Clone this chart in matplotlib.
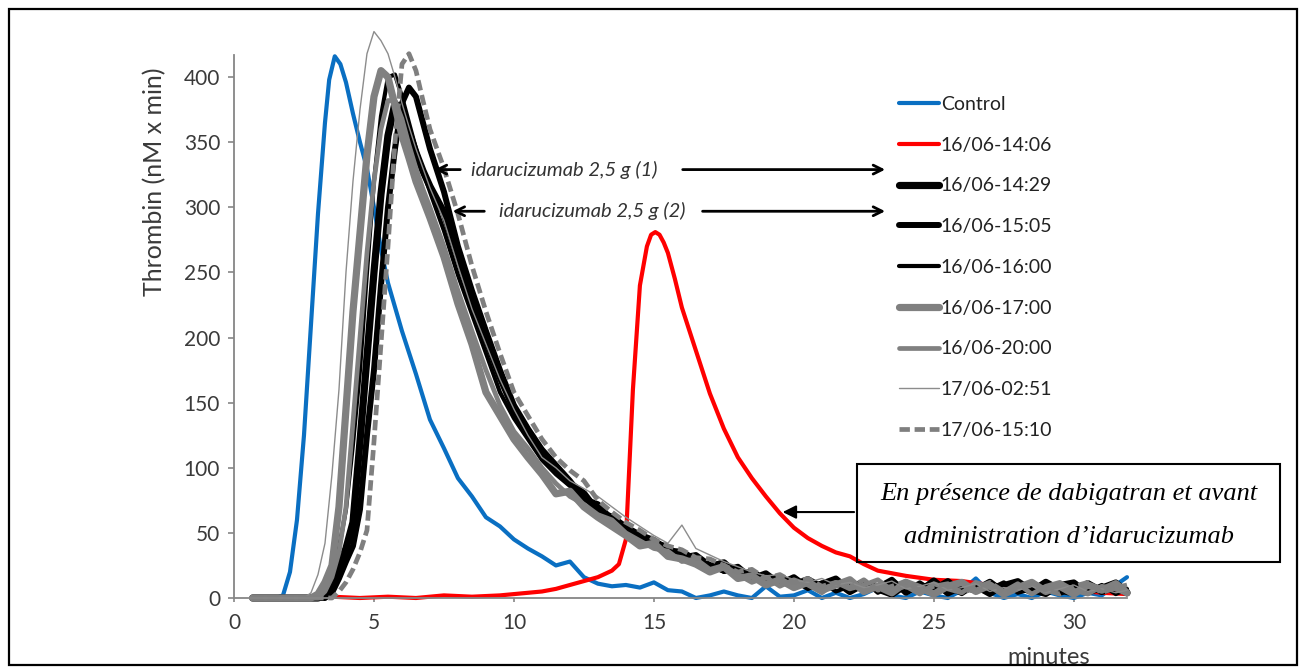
import matplotlib.pyplot as plt
from matplotlib.patches import Rectangle

plt.rcParams['font.family'] = ['Lato', 'DejaVu Sans']

# ---- data ----
t_ctrl = [0.67, 1.0, 1.5, 1.75, 2.0, 2.25, 2.5, 2.75, 3.0, 3.25, 3.4, 3.6, 3.8, 4.0, 4.25, 4.5,
          4.75, 5.0, 5.25, 5.5, 6.0, 6.5, 7.0, 7.5, 8.0, 8.5, 9.0, 9.5, 10.0, 10.5, 11.0, 11.5,
          12.0, 12.5, 13.0, 13.5, 14.0, 14.5, 15.0, 15.5, 16.0, 16.5, 17.0, 17.5, 18.0, 18.5,
          19.0, 19.5, 20.0, 20.5, 21.0, 21.5, 22.0, 22.5, 23.0, 23.5, 24.0, 24.5, 25.0, 25.5,
          26.0, 26.5, 27.0, 27.5, 28.0, 28.5, 29.0, 29.5, 30.0, 30.5, 31.0, 31.5, 31.9]
control = [0, 0, 0, 2, 20, 60, 125, 210, 295, 365, 398, 416, 410, 396, 372, 350,
           330, 300, 268, 242, 205, 172, 137, 115, 92, 78, 62, 55, 45, 38, 32, 25,
           28, 16, 11, 9, 10, 8, 12, 6, 5, 0, 2, 5, 2, 0,
           9, 1, 2, 6, 0, 4, 0, 3, 8, 2, 0, 5, 2, 0,
           6, 15, 4, 0, 3, 0, 5, 2, 0, 4, 2, 10, 16]

t_red = [0.67, 1.5, 2.5, 3.5, 4.5, 5.5, 6.5, 7.5, 8.5, 9.5, 10.0, 10.5, 11.0, 11.5, 12.0, 12.5,
         13.0, 13.5, 13.75, 14.0, 14.25, 14.5, 14.75, 14.9, 15.05, 15.2, 15.35, 15.5, 15.75,
         16.0, 16.5, 17.0, 17.5, 18.0, 18.5, 19.0, 19.5, 20.0, 20.5, 21.0, 21.5, 22.0, 22.5,
         23.0, 24.0, 25.0, 26.0, 27.0, 28.0, 29.0, 30.0, 31.0, 31.9]
s1406 = [0, 0, 0, 1, 0, 1, 0, 2, 1, 2, 3, 4, 5, 7, 10, 13,
         16, 21, 26, 45, 160, 240, 270, 279, 281, 279, 273, 265, 245,
         223, 190, 157, 130, 108, 92, 78, 65, 54, 46, 40, 35, 32, 26,
         21, 17, 14, 13, 10, 9, 7, 6, 4, 3]

# common time grid for the post-idarucizumab samples
t_grid = [0.67, 1.0, 1.5, 2.0, 2.5, 2.75, 3.0, 3.25, 3.5, 3.75, 4.0, 4.25, 4.5, 4.75, 5.0, 5.25,
          5.5, 5.75, 6.0, 6.25, 6.5, 6.75, 7.0, 7.5, 8.0, 8.5, 9.0, 9.5, 10.0, 10.5, 11.0, 11.5,
          12.0, 12.5, 13.0, 13.5, 14.0, 14.5, 15.0, 15.5, 16.0, 16.5, 17.0, 17.5, 18.0, 18.5,
          19.0, 19.5, 20.0, 20.5, 21.0, 21.5, 22.0, 22.5, 23.0, 23.5, 24.0, 24.5, 25.0, 25.5,
          26.0, 26.5, 27.0, 27.5, 28.0, 28.5, 29.0, 29.5, 30.0, 30.5, 31.0, 31.5, 31.9]

s1429 = [0, 0, 0, 0, 0, 0, 0, 2, 10, 24, 38, 58, 120, 185, 250, 310,
         355, 380, 372, 358, 342, 328, 316, 296, 262, 229, 200, 170, 145, 128, 112, 98,
         88, 80, 66, 62, 54, 48, 44, 36, 35, 29, 24, 27, 17, 20,
         13, 16, 10, 14, 8, 13, 5, 11, 7, 3, 10, 5, 13, 4,
         9, 6, 12, 4, 9, 5, 12, 6, 4, 11, 5, 9, 4]
s1505 = [0, 0, 0, 0, 0, 0, 0, 0, 4, 15, 28, 40, 68, 125, 175, 240,
         300, 345, 380, 392, 385, 365, 345, 312, 270, 236, 205, 175, 148, 130, 114, 102,
         90, 76, 72, 60, 55, 47, 43, 39, 31, 33, 25, 21, 24, 15,
         19, 11, 16, 8, 11, 15, 6, 12, 8, 14, 4, 10, 7, 13,
         5, 9, 3, 10, 13, 6, 3, 10, 12, 4, 8, 12, 5]
s1600 = [0, 0, 0, 0, 0, 0, 0, 6, 18, 38, 68, 118, 175, 250, 320, 370,
         400, 402, 385, 365, 345, 328, 312, 282, 248, 218, 188, 158, 138, 122, 106, 95,
         86, 76, 68, 58, 52, 46, 40, 38, 32, 28, 26, 20, 22, 14,
         18, 10, 13, 7, 12, 5, 9, 13, 4, 10, 6, 12, 5, 8,
         3, 10, 7, 12, 4, 7, 10, 3, 8, 5, 10, 3, 7]
s1700 = [0, 0, 0, 0, 0, 0, 3, 12, 25, 70, 145, 220, 280, 340, 385, 405,
         400, 378, 355, 338, 320, 306, 292, 262, 226, 195, 158, 140, 122, 108, 95, 80,
         82, 70, 62, 55, 48, 40, 42, 32, 30, 26, 20, 24, 15, 17,
         10, 14, 8, 12, 6, 10, 14, 5, 9, 4, 12, 8, 3, 9,
         12, 5, 10, 3, 8, 12, 5, 9, 3, 10, 6, 11, 4]
s2000 = [0, 0, 0, 0, 0, 0, 0, 5, 16, 35, 70, 135, 200, 265, 320, 360,
         382, 382, 368, 348, 330, 314, 300, 270, 236, 205, 175, 148, 128, 115, 100, 88,
         78, 72, 64, 60, 50, 44, 38, 36, 28, 30, 22, 25, 18, 12,
         16, 9, 14, 10, 4, 12, 7, 10, 14, 6, 9, 3, 11, 7,
         4, 12, 8, 5, 11, 3, 9, 12, 6, 3, 9, 7, 3]
s0251 = [0, 0, 0, 0, 0, 4, 18, 42, 95, 160, 250, 320, 375, 418, 435, 428,
         418, 400, 380, 362, 345, 330, 315, 290, 255, 222, 195, 168, 145, 125, 108, 100,
         90, 84, 78, 70, 62, 55, 48, 42, 56, 38, 33, 28, 24, 20,
         17, 18, 14, 12, 15, 10, 12, 8, 10, 13, 7, 9, 12, 6,
         8, 11, 5, 8, 6, 9, 4, 7, 10, 5, 7, 4, 6]
s1510 = [0, 0, 0, 0, 0, 0, 0, 0, 0, 5, 12, 22, 35, 52, 120, 195,
         270, 350, 410, 418, 405, 382, 360, 330, 295, 255, 220, 188, 158, 140, 122, 108,
         98, 90, 75, 66, 58, 52, 45, 40, 37, 31, 30, 25, 20, 22,
         15, 18, 12, 15, 9, 12, 8, 14, 6, 9, 13, 5, 9, 11,
         4, 8, 12, 5, 7, 10, 6, 3, 9, 12, 4, 8, 10]

labels = ['Control', '16/06-14:06', '16/06-14:29', '16/06-15:05', '16/06-16:00',
          '16/06-17:00', '16/06-20:00', '17/06-02:51', '17/06-15:10']

fig = plt.figure(figsize=(13.01, 6.70), dpi=100)
ax = fig.add_axes([234 / 1301, 72 / 670, 893 / 1301, 543 / 670])

gray = '#868686'
style = dict(clip_on=False, solid_joinstyle='round', solid_capstyle='round')
ax.plot(t_ctrl, control, color='#0a6fc2', lw=3, label=labels[0], **style)
ax.plot(t_red, s1406, color='#ff0000', lw=3, label=labels[1], **style)
ax.plot(t_grid, s1429, color='black', lw=5.2, label=labels[2], **style)
ax.plot(t_grid, s1505, color='black', lw=4.3, label=labels[3], **style)
ax.plot(t_grid, s1600, color='black', lw=3, label=labels[4], **style)
ax.plot(t_grid, s1700, color='#808080', lw=5.2, label=labels[5], **style)
ax.plot(t_grid, s2000, color='#808080', lw=3.4, label=labels[6], **style)
ax.plot(t_grid, s0251, color='#8c8c8c', lw=1, label=labels[7], **style)
ax.plot(t_grid, s1510, color='#7f7f7f', lw=3.4, dashes=(2.2, 1), label=labels[8], clip_on=False)

ax.set_xlim(0, 31.9)
ax.set_ylim(0, 417)
ax.set_xticks([0, 5, 10, 15, 20, 25, 30])
ax.set_yticks(range(0, 401, 50))
for s in ['top', 'right']:
    ax.spines[s].set_visible(False)
for s in ['left', 'bottom']:
    ax.spines[s].set_color(gray)
    ax.spines[s].set_linewidth(1.3)
ax.tick_params(axis='both', colors=gray, labelcolor='#3a3a3a', labelsize=15, width=1.2)
ax.tick_params(axis='y', length=4, pad=6)
ax.tick_params(axis='x', length=3, pad=8)

fig.text(155 / 1301, 1 - 182 / 670, 'Thrombin (nM x min)', rotation=90, fontsize=18,
         color='#3a3a3a', ha='center', va='center')
# x label sits on the lower frame, as in the reference
fig.text(1049 / 1301, 1 - 668 / 670, 'minutes', fontsize=17, color='#3a3a3a',
         ha='center', va='bottom')

leg = ax.legend(loc='upper left', bbox_to_anchor=(899 / 1301, 1 - 96 / 670),
                bbox_transform=fig.transFigure, frameon=False, fontsize=14,
                handlelength=2.05, handletextpad=0.1, labelspacing=1.22,
                borderpad=0, borderaxespad=0)
for txt in leg.get_texts():
    txt.set_color('#222222')

# idarucizumab arrows
arrow_kw = dict(arrowstyle='->', color='black', lw=2, mutation_scale=16)
for ylev, xtip, xtail, xtext, xr0, tag in [(329, 7.07, 8.18, 11.8, 15.93, '(1)'),
                                           (297, 7.71, 9.04, 12.8, 16.64, '(2)')]:
    ax.annotate('', xy=(xtip, ylev), xytext=(xtail, ylev), arrowprops=arrow_kw)
    ax.annotate('', xy=(23.36, ylev), xytext=(xr0, ylev), arrowprops=arrow_kw)
    ax.text(xtext, ylev, 'idarucizumab 2,5 g ' + tag, style='italic', fontsize=14.5,
            color='#333333', ha='center', va='center')

# boxed note about dabigatran
fig.patches.append(Rectangle((857 / 1301, 1 - 562 / 670), 423 / 1301, 98 / 670,
                             transform=fig.transFigure, fill=False, ec='black', lw=1.5))
note_font = dict(family='Liberation Serif', style='italic', fontsize=19, color='black',
                 ha='center', va='center')
fig.text(1069 / 1301, 1 - 494 / 670, 'En présence de dabigatran et avant', **note_font)
fig.text(1069 / 1301, 1 - 537 / 670, 'administration d\u2019idarucizumab', **note_font)
ax.annotate('', xy=(19.5, 66), xytext=(22.25, 66),
            arrowprops=dict(arrowstyle='-|>', color='black', lw=1.5, mutation_scale=20))

# outer frame
fig.patches.append(Rectangle((9 / 1301, 5 / 670), 1288 / 1301, 656 / 670,
                             transform=fig.transFigure, fill=False, ec='black', lw=1.6,
                             zorder=10))

fig.savefig('out.png', dpi=100)
